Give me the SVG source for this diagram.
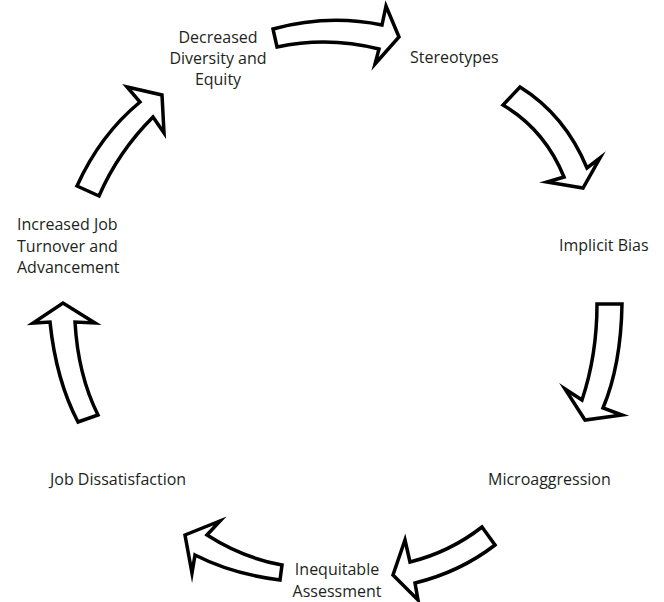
<svg xmlns="http://www.w3.org/2000/svg" width="664" height="602" viewBox="0 0 664 602">
<style>
.arr{fill:#fff;stroke:#000;stroke-width:3.5;stroke-linejoin:miter;stroke-miterlimit:10}
.t{font-family:"Open Sans","Liberation Sans",sans-serif;font-size:16px;fill:#231f20}
.c{text-anchor:middle}
</style>
<rect width="664" height="602" fill="#fff"/>
<g id="connectors">
<path class="arr" d="M273,29 Q328,14 382,25 L386,6 L399,37 L375,64 L379,49 Q328,36 277,47 Z"/>
<path class="arr" d="M520,87 Q565,115 587,168 L600,158 L583,188 L547,182 L564,177 Q545,130 503,105 Z"/>
<path class="arr" d="M597,304 L622,304 Q621,365 603,408 L622,415 L585,420 L565,389 L582,400 Q597,355 597,304 Z"/>
<path class="arr" d="M482,527 L495,545 Q460,572 415,583 L418,600 L393,575 L405,540 L410,562 Q450,552 482,527 Z"/>
<path class="arr" d="M282,565 L280,580 Q232,574 195,555 L192,573 L185,535 L220,521 L207,535 Q243,558 282,565 Z"/>
<path class="arr" d="M78,422 Q56,380 50,322 L33,323 L63,303 L95,323 L75,322 Q78,375 98,415 Z"/>
<path class="arr" d="M77,186 Q100,135 140,102 L127,87 L162,95 L164,133 L153,117 Q118,152 99,196 Z"/>
</g>
<g id="n-decreased"><text class="t c" x="218" y="43">Decreased</text><text class="t c" x="218" y="64">Diversity and</text><text class="t c" x="218" y="85">Equity</text></g>
<g id="n-stereotypes"><text class="t" x="410" y="63">Stereotypes</text></g>
<g id="n-implicit"><text class="t" x="559" y="251">Implicit Bias</text></g>
<g id="n-micro"><text class="t" x="488" y="485">Microaggression</text></g>
<g id="n-inequitable"><text class="t c" x="337" y="575">Inequitable</text><text class="t c" x="337" y="597">Assessment</text></g>
<g id="n-job"><text class="t" x="50" y="485">Job Dissatisfaction</text></g>
<g id="n-increased"><text class="t" x="17" y="230">Increased Job</text><text class="t" x="17" y="252">Turnover and</text><text class="t" x="17" y="273">Advancement</text></g>
</svg>
